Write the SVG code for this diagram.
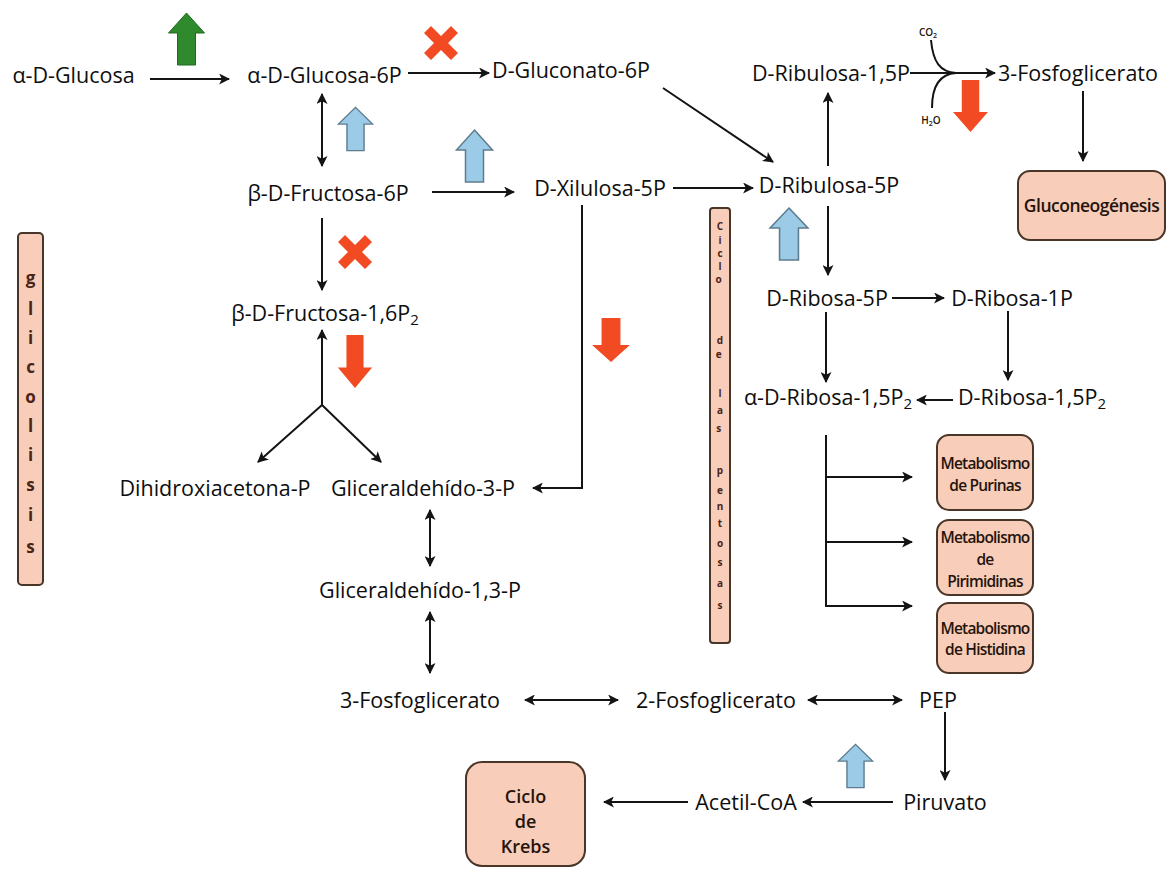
<svg xmlns="http://www.w3.org/2000/svg" width="1167" height="871" viewBox="0 0 1167 871">
<style>
.t{font-family:"Open Sans","Noto Sans",sans-serif;font-size:21.5px;font-weight:500;fill:#0e0e0e;text-anchor:middle}
.sub{font-size:15px}
.box{fill:#f8cdb9;stroke:#4a3628;stroke-width:2}
.bt{font-family:"Open Sans","Noto Sans",sans-serif;font-weight:600;fill:#24140c;text-anchor:middle}
.vl{font-family:"Open Sans","Noto Sans",sans-serif;font-weight:700;fill:#4a2418;text-anchor:middle}
.c{fill:none;stroke:#141414;stroke-width:2}
.blue{fill:#9ccbe8;stroke:#5d7d8e;stroke-width:1.5}
.red{fill:#f24a22}
.green{fill:#2f8a2e;stroke:#1f6a1f;stroke-width:1}
</style>
<defs>
<marker id="ah" viewBox="0 0 10 10" refX="9" refY="5" markerWidth="5.5" markerHeight="5.5" orient="auto-start-reverse" markerUnits="strokeWidth">
<path d="M0,0 L10,5 L0,10 L2.5,5 z" fill="#141414"/>
</marker>
<path id="up" d="M0,-26 L18,-6 L9,-6 L9,26 L-9,26 L-9,-6 L-18,-6 z"/>
<path id="xm" d="M-17,-10 L-10,-17 L0,-7 L10,-17 L17,-10 L7,0 L17,10 L10,17 L0,7 L-10,17 L-17,10 L-7,0 z"/>
</defs>

<g id="connectors">
<line class="c" x1="150" y1="79" x2="229" y2="79" marker-end="url(#ah)"/>
<line class="c" x1="408" y1="73" x2="489" y2="73" marker-end="url(#ah)"/>
<line class="c" x1="663" y1="88" x2="773" y2="162" marker-end="url(#ah)"/>
<line class="c" x1="910" y1="73" x2="995" y2="73" marker-end="url(#ah)"/>
<path class="c" d="M931,40 C933,62 940,72 956,73"/>
<path class="c" d="M956,73 C940,74 932,86 932,108"/>
<line class="c" x1="1083" y1="91" x2="1083" y2="161" marker-end="url(#ah)"/>
<line class="c" x1="322" y1="94" x2="322" y2="166" marker-start="url(#ah)" marker-end="url(#ah)"/>
<line class="c" x1="432" y1="192" x2="514" y2="192" marker-end="url(#ah)"/>
<line class="c" x1="673" y1="188" x2="753" y2="188" marker-end="url(#ah)"/>
<line class="c" x1="828" y1="166" x2="828" y2="93" marker-end="url(#ah)"/>
<line class="c" x1="828" y1="206" x2="828" y2="275" marker-end="url(#ah)"/>
<line class="c" x1="322" y1="218" x2="322" y2="290" marker-end="url(#ah)"/>
<line class="c" x1="322" y1="405" x2="322" y2="330" marker-end="url(#ah)"/>
<line class="c" x1="322" y1="405" x2="258" y2="462" marker-end="url(#ah)"/>
<line class="c" x1="322" y1="405" x2="381" y2="462" marker-end="url(#ah)"/>
<polyline class="c" points="582,205 582,488 533,488" marker-end="url(#ah)"/>
<line class="c" x1="430" y1="510" x2="430" y2="566" marker-start="url(#ah)" marker-end="url(#ah)"/>
<line class="c" x1="430" y1="612" x2="430" y2="673" marker-start="url(#ah)" marker-end="url(#ah)"/>
<line class="c" x1="525" y1="700" x2="618" y2="700" marker-start="url(#ah)" marker-end="url(#ah)"/>
<line class="c" x1="808" y1="700" x2="902" y2="700" marker-start="url(#ah)" marker-end="url(#ah)"/>
<line class="c" x1="945" y1="712" x2="945" y2="780" marker-end="url(#ah)"/>
<line class="c" x1="893" y1="802" x2="803" y2="802" marker-end="url(#ah)"/>
<line class="c" x1="688" y1="802" x2="604" y2="802" marker-end="url(#ah)"/>
<line class="c" x1="892" y1="298" x2="944" y2="298" marker-end="url(#ah)"/>
<line class="c" x1="1008" y1="311" x2="1008" y2="380" marker-end="url(#ah)"/>
<line class="c" x1="826" y1="312" x2="826" y2="382" marker-end="url(#ah)"/>
<line class="c" x1="953" y1="400" x2="917" y2="400" marker-end="url(#ah)"/>
<line class="c" x1="826" y1="435" x2="826" y2="607"/>
<line class="c" x1="826" y1="477" x2="912" y2="477" marker-end="url(#ah)"/>
<line class="c" x1="826" y1="542" x2="912" y2="542" marker-end="url(#ah)"/>
<line class="c" x1="826" y1="606" x2="912" y2="606" marker-end="url(#ah)"/>
</g>

<g id="indicators">
<use href="#up" class="green" transform="translate(186.5,39)"/>
<use href="#up" class="blue" transform="translate(355.5,129) scale(0.95,0.83)"/>
<use href="#up" class="blue" transform="translate(474.5,156)"/>
<use href="#up" class="blue" transform="translate(789,234) scale(1.05,1)"/>
<use href="#up" class="blue" transform="translate(855.5,766) scale(0.95,0.83)"/>
<use href="#up" class="red" transform="translate(355,361.5) scale(0.95,-1.02)"/>
<use href="#up" class="red" transform="translate(611,340) scale(1.05,-0.85)"/>
<use href="#up" class="red" transform="translate(970.5,106) scale(0.97,-1)"/>
<use href="#xm" class="red" transform="translate(441,43)"/>
<use href="#xm" class="red" transform="translate(355,252)"/>
</g>

<g id="n-glucosa"><text class="t" x="73.5" y="83">α-D-Glucosa</text></g>
<g id="n-glucosa6p"><text class="t" x="324.5" y="83">α-D-Glucosa-6P</text></g>
<g id="n-gluconato6p"><text class="t" x="571" y="78">D-Gluconato-6P</text></g>
<g id="n-ribulosa15p"><text class="t" x="831" y="81">D-Ribulosa-1,5P</text></g>
<g id="n-co2"><text class="bt" x="928" y="36" font-size="10">CO<tspan font-size="7" dy="2">2</tspan></text></g>
<g id="n-h2o"><text class="bt" x="931" y="124" font-size="10">H<tspan font-size="7" dy="2">2</tspan><tspan dy="-2">O</tspan></text></g>
<g id="n-3pg-top"><text class="t" x="1078" y="81">3-Fosfoglicerato</text></g>
<g id="n-gluconeogenesis"><rect class="box" x="1018" y="171" width="147" height="69" rx="12"/><text class="bt" x="1091.5" y="212" font-size="17.5" letter-spacing="-0.5">Gluconeogénesis</text></g>
<g id="n-fructosa6p"><text class="t" x="328" y="201">β-D-Fructosa-6P</text></g>
<g id="n-xilulosa5p"><text class="t" x="600" y="196">D-Xilulosa-5P</text></g>
<g id="n-ribulosa5p"><text class="t" x="829" y="193">D-Ribulosa-5P</text></g>
<g id="n-fructosa16p2"><text class="t" x="325" y="321">β-D-Fructosa-1,6P<tspan class="sub" dy="4">2</tspan></text></g>
<g id="n-ribosa5p"><text class="t" x="827" y="306">D-Ribosa-5P</text></g>
<g id="n-ribosa1p"><text class="t" x="1012" y="306">D-Ribosa-1P</text></g>
<g id="n-aribosa15p2"><text class="t" x="828" y="405">α-D-Ribosa-1,5P<tspan class="sub" dy="4">2</tspan></text></g>
<g id="n-ribosa15p2"><text class="t" x="1032" y="405">D-Ribosa-1,5P<tspan class="sub" dy="4">2</tspan></text></g>
<g id="n-dhap"><text class="t" x="215" y="496">Dihidroxiacetona-P</text></g>
<g id="n-g3p"><text class="t" x="423" y="496">Gliceraldehído-3-P</text></g>
<g id="n-g13p"><text class="t" x="420" y="598">Gliceraldehído-1,3-P</text></g>
<g id="n-3pg"><text class="t" x="420" y="708">3-Fosfoglicerato</text></g>
<g id="n-2pg"><text class="t" x="716" y="708">2-Fosfoglicerato</text></g>
<g id="n-pep"><text class="t" x="938" y="708">PEP</text></g>
<g id="n-piruvato"><text class="t" x="945" y="810">Piruvato</text></g>
<g id="n-acetilcoa"><text class="t" x="746" y="810">Acetil-CoA</text></g>
<g id="n-krebs"><rect class="box" x="466" y="762" width="119" height="104" rx="16"/>
<text class="bt" x="525.5" y="803" font-size="18">Ciclo</text>
<text class="bt" x="525.5" y="828" font-size="18">de</text>
<text class="bt" x="525.5" y="853" font-size="18">Krebs</text></g>
<g id="n-purinas"><rect class="box" x="937" y="435" width="96" height="75" rx="12"/>
<text class="bt" x="985" y="469" font-size="15.5" letter-spacing="-0.8">Metabolismo</text>
<text class="bt" x="985" y="491" font-size="15.5" letter-spacing="-0.8">de Purinas</text></g>
<g id="n-pirimidinas"><rect class="box" x="937" y="520" width="96" height="75" rx="12"/>
<text class="bt" x="985" y="543" font-size="15.5" letter-spacing="-0.8">Metabolismo</text>
<text class="bt" x="985" y="565" font-size="15.5" letter-spacing="-0.8">de</text>
<text class="bt" x="985" y="587" font-size="15.5" letter-spacing="-0.8">Pirimidinas</text></g>
<g id="n-histidina"><rect class="box" x="937" y="603" width="96" height="70" rx="12"/>
<text class="bt" x="985" y="634" font-size="15.5" letter-spacing="-0.8">Metabolismo</text>
<text class="bt" x="985" y="655" font-size="15.5" letter-spacing="-0.8">de Histidina</text></g>

<g id="n-glicolisis"><rect class="box" x="18" y="233" width="25" height="352" rx="4"/>
<text class="vl" font-size="17">
<tspan x="30.5" y="284">g</tspan><tspan x="30.5" y="315">l</tspan><tspan x="30.5" y="344">i</tspan><tspan x="30.5" y="373">c</tspan><tspan x="30.5" y="403">o</tspan><tspan x="30.5" y="432">l</tspan><tspan x="30.5" y="461">i</tspan><tspan x="30.5" y="491">s</tspan><tspan x="30.5" y="521">i</tspan><tspan x="30.5" y="553">s</tspan>
</text></g>
<g id="n-pentosas"><rect class="box" x="710" y="208" width="20" height="435" rx="3"/>
<text class="vl" font-size="10" fill="#6a2818">
<tspan x="720" y="230">C</tspan><tspan x="720" y="244">i</tspan><tspan x="720" y="257">c</tspan><tspan x="720" y="270">l</tspan><tspan x="720" y="283">o</tspan>
<tspan x="720" y="344">d</tspan><tspan x="720" y="358">e</tspan>
<tspan x="720" y="397">l</tspan><tspan x="720" y="414">a</tspan><tspan x="720" y="432">s</tspan>
<tspan x="720" y="474">p</tspan><tspan x="720" y="494">e</tspan><tspan x="720" y="510">n</tspan><tspan x="720" y="527">t</tspan><tspan x="720" y="547">o</tspan><tspan x="720" y="566">s</tspan><tspan x="720" y="587">a</tspan><tspan x="720" y="609">s</tspan>
</text></g>
</svg>
